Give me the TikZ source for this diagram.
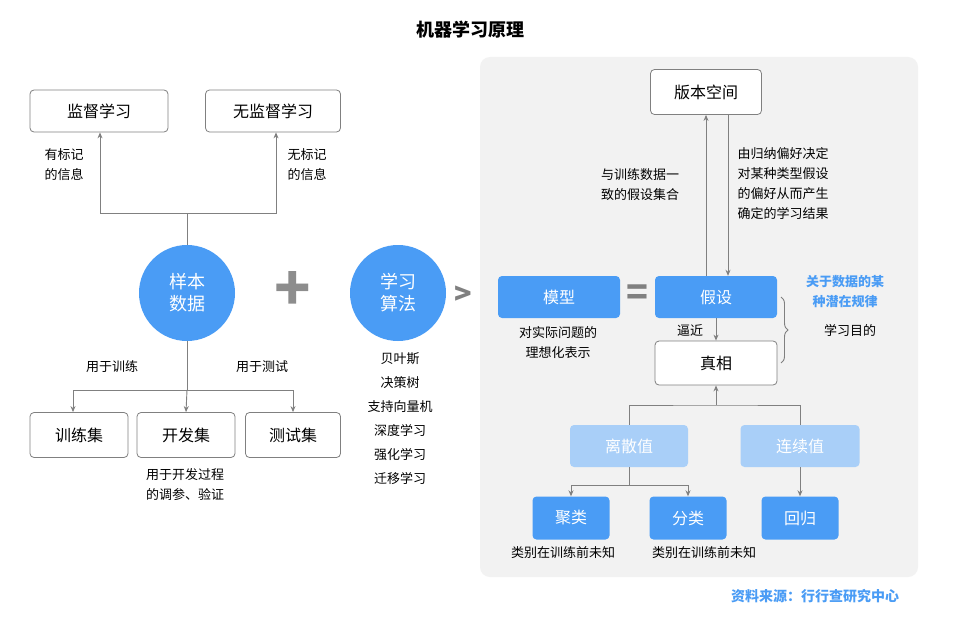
\documentclass[tikz,border=0pt]{standalone}
\usepackage{fontspec}
\setmainfont{Noto Sans CJK SC}
\usetikzlibrary{decorations.pathreplacing,arrows.meta}
\definecolor{blu}{HTML}{4A9CF5}
\definecolor{lblu}{HTML}{A9CFF8}
\definecolor{gr}{HTML}{808080}
\begin{document}
\begin{tikzpicture}[x=1pt,y=-1pt,
 box/.style={draw=gr,line width=0.8pt,rounded corners=4pt,fill=white,font=\fontsize{16}{16}\selectfont},
 bbox/.style={rounded corners=4pt,fill=blu,text=white,font=\fontsize{16}{16}\selectfont},
 lbox/.style={rounded corners=4pt,fill=lblu,text=white,font=\fontsize{16}{16}\selectfont},
 circ/.style={circle,fill=blu,text=white,minimum size=96pt,align=center,font=\fontsize{18}{22}\selectfont},
 lbl/.style={font=\fontsize{13}{20}\selectfont,align=center},
 ln/.style={draw=gr,line width=0.9pt},
 ar/.style={ln,-{Stealth[length=6pt,width=5pt]}}]
\useasboundingbox (0,0) rectangle (957,623);
\fill[white] (0,0) rectangle (957,623);
\node[font=\bfseries\fontsize{18}{18}\selectfont] (title) at (470,30) {机器学习原理};
% right panel
\fill[black!5,rounded corners=10pt] (480,57) rectangle (918,577);
% left
\node[box,minimum width=138pt,minimum height=42pt] (sup) at (99,111) {监督学习};
\node[box,minimum width=135pt,minimum height=42pt] (uns) at (273,111) {无监督学习};
\node[circ] (data) at (187,293) {样本\\数据};
\node[circ] (alg) at (398,293) {学习\\算法};
\node[text=gr!90,font=\bfseries\fontsize{60}{60}\selectfont] (plus) at (293,291) {+};
\node[text=gr,font=\bfseries\fontsize{36}{36}\selectfont,scale=0.8] (chev) at (463,295) {\textgreater};
\coordinate (j1) at (187,213);
\draw[ln] (data.north) -- (j1);
\draw[ar] (j1) -| (sup.south -| 100,0);
\draw[ar] (j1) -| (uns.south -| 276,0);
\node[lbl] (l1) at (64,165) {有标记\\的信息};
\node[lbl] (l2) at (307,165) {无标记\\的信息};
\node[box,minimum width=98pt,minimum height=45pt] (tr) at (79,435) {训练集};
\node[box,minimum width=98pt,minimum height=45pt] (dev) at (186,435) {开发集};
\node[box,minimum width=95pt,minimum height=45pt] (te) at (293,435) {测试集};
\coordinate (j2) at (187,390);
\draw[ln] (data.south) -- (j2);
\draw[ar] (j2) -| (tr.north -| 73,0);
\draw[ar] (j2) -- (dev.north);
\draw[ar] (j2) -| (te.north);
\node[lbl] (l3) at (112,367) {用于训练};
\node[lbl] (l4) at (262,367) {用于测试};
\node[lbl] (l5) at (185,485) {用于开发过程\\的调参、验证};
\node[font=\fontsize{13}{24}\selectfont,align=center,anchor=north] (algs) at (400,349) {贝叶斯\\决策树\\支持向量机\\深度学习\\强化学习\\迁移学习};
% right
\node[box,minimum width=111pt,minimum height=45pt] (vs) at (706,92) {版本空间};
\node[bbox,minimum width=122pt,minimum height=42pt] (hyp) at (716,297) {假设};
\node[bbox,minimum width=122pt,minimum height=42pt] (mod) at (559,297) {模型};
\node[text=gr,font=\bfseries\fontsize{36}{36}\selectfont] (eq) at (637,295) {=};
\node[box,minimum width=122pt,minimum height=44pt] (tru) at (716,363) {真相};
\draw[ar] (hyp.north -| 706,0) -- (vs.south -| 706,0);
\draw[ar] (vs.south -| 728,0) -- (hyp.north -| 728,0);
\node[lbl] (t1) at (640,185) {与训练数据一\\致的假设集合};
\node[lbl,align=left,anchor=west] (t2) at (734,184) {由归纳偏好决定\\对某种类型假设\\的偏好从而产生\\确定的学习结果};
\draw[ar] (hyp.south) -- (tru.north);
\node[lbl] (t3) at (690,330) {逼近};
\draw[ln,decorate,decoration={brace,amplitude=7pt}] (781,297) -- (781,363);
\node[lbl] (t4) at (850,330) {学习目的};
\node[lbl,text=blu,font=\bfseries\fontsize{13}{20}\selectfont] (t5) at (845,292) {关于数据的某\\种潜在规律};
\node[lbl] (t6) at (558,343) {对实际问题的\\理想化表示};
\node[lbox,minimum width=118pt,minimum height=42pt] (dis) at (629,446) {离散值};
\node[lbox,minimum width=119pt,minimum height=42pt] (con) at (800,446) {连续值};
\coordinate (j3) at (716,405);
\draw[ar] (j3) -- (tru.south);
\draw[ln] (dis.north) |- (j3) -| (con.north);
\node[bbox,minimum width=77pt,minimum height=43pt] (clu) at (571,518) {聚类};
\node[bbox,minimum width=77pt,minimum height=43pt] (cls) at (688,518) {分类};
\node[bbox,minimum width=77pt,minimum height=43pt] (reg) at (800,518) {回归};
\coordinate (j4) at (629,485);
\draw[ln] (dis.south) -- (j4);
\draw[ar] (j4) -| (clu.north);
\draw[ar] (j4) -| (cls.north);
\draw[ar] (con.south) -- (reg.north);
\node[lbl] (c1) at (563,553) {类别在训练前未知};
\node[lbl] (c2) at (704,553) {类别在训练前未知};
\node[text=blu,font=\bfseries\fontsize{14}{14}\selectfont] (src) at (815,596) {资料来源：行行查研究中心};
\end{tikzpicture}
\end{document}
